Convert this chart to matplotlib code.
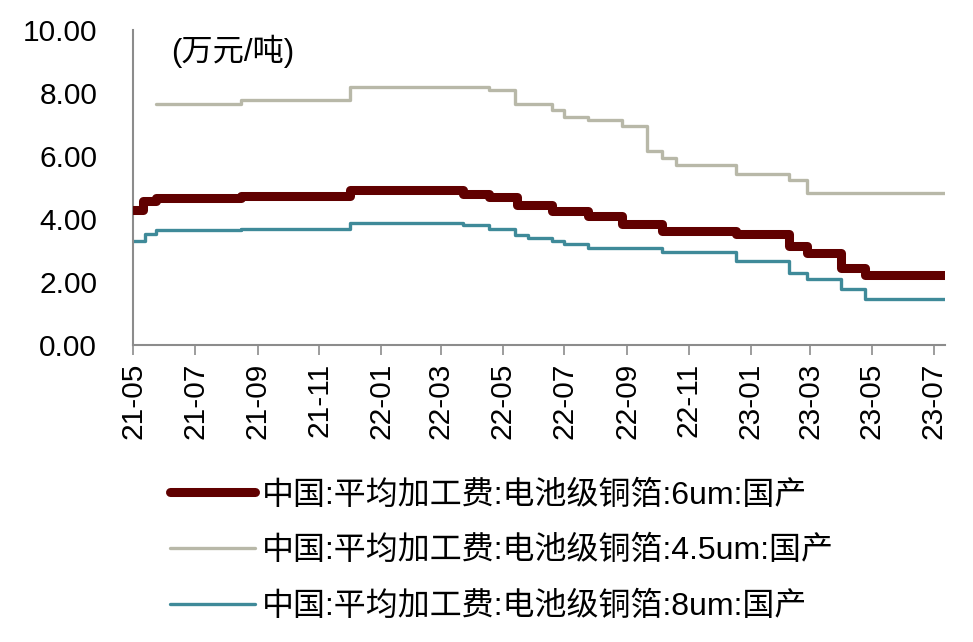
import matplotlib.pyplot as plt
import matplotlib.dates as mdates
import pandas as pd

plt.rcParams['font.family'] = ['Liberation Sans', 'Noto Sans CJK SC', 'DejaVu Sans']

# step change dates and levels (万元/吨)
dates_6um = ['2021-05-01', '2021-05-11', '2021-05-23', '2021-08-15', '2021-12-01',
             '2022-03-23', '2022-04-18', '2022-05-15', '2022-06-19', '2022-07-24',
             '2022-08-27', '2022-10-06', '2022-12-18', '2023-02-08', '2023-02-26',
             '2023-03-31', '2023-04-24', '2023-07-12']
vals_6um = [4.30, 4.56, 4.67, 4.72, 4.91,
            4.80, 4.69, 4.46, 4.27, 4.09,
            3.84, 3.63, 3.53, 3.13, 2.92,
            2.44, 2.23, 2.23]

dates_45um = ['2021-05-23', '2021-08-15', '2021-12-01', '2022-04-18', '2022-05-13',
              '2022-06-19', '2022-07-01', '2022-07-24', '2022-08-27', '2022-09-21',
              '2022-10-06', '2022-10-19', '2022-12-18', '2023-02-08', '2023-02-26',
              '2023-07-12']
vals_45um = [7.67, 7.78, 8.19, 8.09, 7.66,
             7.45, 7.25, 7.14, 6.95, 6.16,
             5.94, 5.73, 5.44, 5.25, 4.83,
             4.83]

dates_8um = ['2021-05-01', '2021-05-13', '2021-05-23', '2021-08-15', '2021-12-01',
             '2022-03-23', '2022-04-18', '2022-05-13', '2022-05-26', '2022-06-19',
             '2022-07-01', '2022-07-24', '2022-10-06', '2022-12-18', '2023-02-08',
             '2023-02-26', '2023-03-31', '2023-04-24', '2023-07-12']
vals_8um = [3.29, 3.53, 3.64, 3.68, 3.87,
            3.80, 3.68, 3.48, 3.40, 3.29,
            3.22, 3.08, 2.97, 2.68, 2.28,
            2.09, 1.77, 1.47, 1.47]

labels = ['中国:平均加工费:电池级铜箔:6um:国产',
          '中国:平均加工费:电池级铜箔:4.5um:国产',
          '中国:平均加工费:电池级铜箔:8um:国产']

fig = plt.figure(figsize=(9.73, 6.42), dpi=100)
ax = fig.add_axes([0.137, 0.4626, 0.834, 0.4904])

ax.plot(pd.to_datetime(dates_6um), vals_6um, drawstyle='steps-post', color='#600000',
        lw=6.5, solid_capstyle='round', solid_joinstyle='round', label=labels[0], zorder=3)
ax.plot(pd.to_datetime(dates_45um), vals_45um, drawstyle='steps-post', color='#B8B8A8',
        lw=2.4, solid_capstyle='round', label=labels[1], zorder=2)
ax.plot(pd.to_datetime(dates_8um), vals_8um, drawstyle='steps-post', color='#3F8A99',
        lw=2.4, solid_capstyle='round', label=labels[2], zorder=2)

ax.set_ylim(0, 10)
ax.set_yticks([0, 2, 4, 6, 8, 10])
ax.yaxis.set_major_formatter(plt.FuncFormatter(lambda v, p: f'{v:.2f}'))
ax.set_xlim(pd.Timestamp('2021-05-01'), pd.Timestamp('2023-07-12'))
ax.xaxis.set_major_locator(mdates.MonthLocator(bymonth=[1, 3, 5, 7, 9, 11]))
ax.xaxis.set_major_formatter(mdates.DateFormatter('%y-%m'))

for s in ['top', 'right']:
    ax.spines[s].set_visible(False)
for s in ['left', 'bottom']:
    ax.spines[s].set_color('#8C8C8C')
    ax.spines[s].set_linewidth(1.5)

ax.tick_params(axis='y', length=0, labelsize=21.5, pad=26)
ax.tick_params(axis='x', length=7, width=1.2, color='#8C8C8C', labelsize=21.5,
               labelrotation=90, pad=6)

ax.text(0.047, 0.985, '(万元/吨)', transform=ax.transAxes, fontsize=22.5,
        va='top', ha='left')

fig.legend(loc='upper left', bbox_to_anchor=(0.175, 0.252), frameon=False,
           fontsize=23, handlelength=2.65, handletextpad=0.22, labelspacing=0.8,
           borderpad=0, borderaxespad=0)

fig.savefig('out.png', dpi=100)
